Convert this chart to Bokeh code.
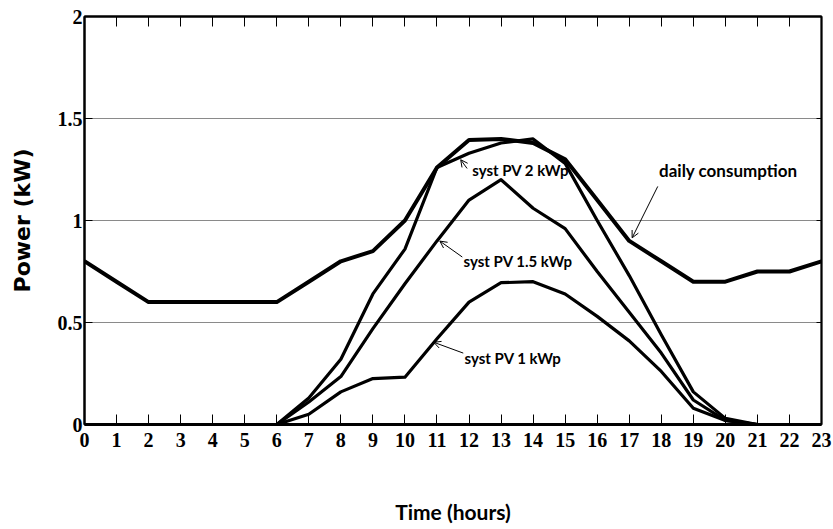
from bokeh.plotting import figure
from bokeh.models import LinearAxis, Range1d, Arrow, OpenHead, FixedTicker, Label
from bokeh.embed import file_html
from bokeh.resources import INLINE

# ---- data ----
hours = list(range(24))
consumption = [0.8, 0.7, 0.6, 0.6, 0.6, 0.6, 0.6, 0.7, 0.8, 0.85, 1.0, 1.26,
               1.395, 1.40, 1.38, 1.30, 1.10, 0.90, 0.80, 0.70, 0.70, 0.75, 0.75, 0.80]
pv_2kwp = [0, 0, 0, 0, 0, 0, 0, 0.13, 0.32, 0.64, 0.86, 1.26,
           1.33, 1.38, 1.40, 1.28, 1.00, 0.73, 0.44, 0.16, 0.03, 0, 0, 0]
pv_15kwp = [0, 0, 0, 0, 0, 0, 0, 0.11, 0.235, 0.47, 0.69, 0.90,
            1.10, 1.20, 1.06, 0.96, 0.75, 0.55, 0.35, 0.12, 0.02, 0, 0, 0]
pv_1kwp = [0, 0, 0, 0, 0, 0, 0, 0.05, 0.16, 0.225, 0.232, 0.42,
           0.60, 0.695, 0.70, 0.64, 0.53, 0.41, 0.26, 0.08, 0.02, 0, 0, 0]
y_ticks = [0, 0.5, 1, 1.5, 2]
y_tick_labels = ["0", "0.5", "1", "1.5", "2"]

p = figure(width=833, height=529, x_range=Range1d(0, 23), y_range=Range1d(0, 2),
           output_backend="svg", toolbar_location=None,
           min_border_left=84, min_border_right=12, min_border_top=16, min_border_bottom=105)
p.background_fill_color = "white"
p.border_fill_color = "white"
p.outline_line_color = "black"
p.outline_line_width = 2

# bottom axis
xa = p.xaxis[0]
xa.ticker = FixedTicker(ticks=hours)
xa.major_tick_in = 10
xa.major_tick_out = 0
xa.minor_tick_line_color = None
xa.axis_line_width = 3
xa.axis_line_color = "black"
xa.major_tick_line_color = "black"
xa.major_label_text_font = "Liberation Serif"
xa.major_label_text_font_style = "bold"
xa.major_label_text_font_size = "20px"
xa.major_label_text_color = "black"
xa.major_label_standoff = 8
xa.axis_label = "Time (hours)"
xa.axis_label_text_font = "Lato"
xa.axis_label_text_font_style = "bold"
xa.axis_label_text_font_size = "21px"
xa.axis_label_text_color = "black"
xa.axis_label_standoff = 49

# left axis
ya = p.yaxis[0]
ya.ticker = FixedTicker(ticks=y_ticks)
ya.major_label_overrides = {t: s for t, s in zip(y_ticks, y_tick_labels)}
ya.major_tick_in = 8
ya.major_tick_out = 0
ya.minor_tick_line_color = None
ya.axis_line_width = 2
ya.axis_line_color = "black"
ya.major_label_text_font = "Liberation Serif"
ya.major_label_text_font_style = "bold"
ya.major_label_text_font_size = "20px"
ya.major_label_text_color = "black"
ya.major_label_standoff = 2
ya.axis_label = "Power (kW)"
ya.axis_label_text_font = "DejaVu Sans"
ya.axis_label_text_font_style = "bold"
ya.axis_label_text_font_size = "22px"
ya.axis_label_text_color = "black"
ya.axis_label_standoff = 20

# top axis (ticks only, labels not drawn)
top = LinearAxis(ticker=FixedTicker(ticks=hours), major_tick_in=10, major_tick_out=0,
                 minor_tick_line_color=None, axis_line_width=2,
                 major_label_text_font_size="1px", major_label_text_color=None,
                 major_label_standoff=0)
p.add_layout(top, "above")

# right axis (ticks only, labels not drawn)
right = LinearAxis(ticker=FixedTicker(ticks=y_ticks), major_tick_in=5, major_tick_out=0,
                   minor_tick_line_color=None, axis_line_width=1.5,
                   major_label_text_font_size="1px", major_label_text_color=None,
                   major_label_standoff=0)
p.add_layout(right, "right")

p.xgrid.visible = False
p.ygrid.ticker = FixedTicker(ticks=[0.5, 1, 1.5])
p.ygrid.grid_line_color = "#8a8a8a"
p.ygrid.grid_line_width = 1

# series
p.line(hours, consumption, line_color="black", line_width=4, line_join="round")
p.line(hours, pv_2kwp, line_color="black", line_width=3.2, line_join="round")
p.line(hours, pv_15kwp, line_color="black", line_width=3.2, line_join="round")
p.line(hours, pv_1kwp, line_color="black", line_width=3.2, line_join="round")

# annotations
annots = [
    ("syst PV 2 kWp", 12.1, 1.25, "15px", (11.94, 1.255), (11.74, 1.298)),
    ("syst PV 1.5 kWp", 11.83, 0.80, "15px", (11.79, 0.821), (11.09, 0.899)),
    ("syst PV 1 kWp", 11.86, 0.326, "15px", (11.82, 0.350), (10.90, 0.403)),
    ("daily consumption", 17.93, 1.245, "17px", (17.89, 1.167), (17.09, 0.915)),
]
for txt, tx, ty, fs, (x0, y0), (x1, y1) in annots:
    p.add_layout(Label(x=tx, y=ty, text=txt, text_font="Lato", text_font_style="bold",
                       text_font_size=fs, text_baseline="middle", text_align="left",
                       text_color="black"))
    p.add_layout(Arrow(end=OpenHead(size=7, line_width=1, line_color="black"),
                       x_start=x0, y_start=y0, x_end=x1, y_end=y1,
                       line_width=1, line_color="black"))

open("out.html", "w").write(file_html(p, INLINE))
